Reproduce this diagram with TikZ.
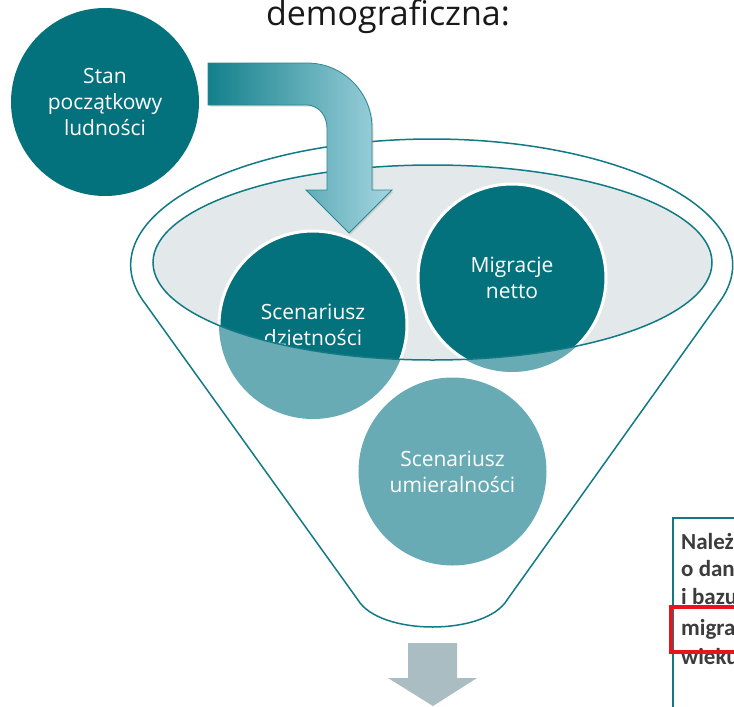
\documentclass[tikz,border=0pt]{standalone}
\usepackage{fontspec}
\setmainfont{Open Sans}
\newfontfamily\boxfont{Carlito}
\usetikzlibrary{shadows}
\definecolor{tealdark}{RGB}{4,114,125}
\definecolor{teallight}{RGB}{104,171,180}
\definecolor{rimfill}{RGB}{227,233,235}
\definecolor{funnelline}{RGB}{17,122,133}
\definecolor{arrowA}{RGB}{18,128,139}
\definecolor{arrowB}{RGB}{140,196,209}
\definecolor{arrowC}{RGB}{165,213,224}
\definecolor{arrowline}{RGB}{40,135,145}
\definecolor{grayarrow}{RGB}{169,189,195}
\definecolor{boxline}{RGB}{20,120,130}
\definecolor{boxtext}{RGB}{60,60,60}
\definecolor{redbox}{RGB}{232,20,27}
\begin{document}
\begin{tikzpicture}[x=1pt,y=-1pt,
  bubble/.style={circle, minimum size=188pt, inner sep=0pt, align=center,
    text=white, font=\fontsize{21}{26}\selectfont},
  funnelstroke/.style={draw=funnelline, line width=1.5pt},
  boxline text/.style={anchor=base west, text=boxtext, inner sep=0pt,
    font=\boxfont\bfseries\fontsize{23}{26}\selectfont}]
\useasboundingbox (0,0) rectangle (734,707);
\clip (0,0) rectangle (734,707);

% funnel body
\path[funnelstroke, fill=white] (143,300.6)
  arc[start angle=163.6, end angle=376.4, x radius=301, y radius=126]
  -- (507,600) .. controls (485,636) and (380,636) .. (358,600) -- cycle;

% funnel rim fill
\fill[rimfill] (432.5,262.5) ellipse [x radius=279.5, y radius=97.5];

% circles (light parts)
\node[bubble, fill=teallight] (dzl) at (313,325) {};
\node[bubble, fill=teallight] (migl) at (512,278) {};
\node[bubble, fill=teallight] (um) at (452.5,471.5) {Scenariusz\\umieralności};

% circles (dark parts inside the rim)
\begin{scope}
  \clip (432.5,262.5) ellipse [x radius=279.5, y radius=97.5];
  \node[bubble, fill=tealdark, draw=white, line width=3pt] (dz) at (313,325) {Scenariusz\\dzietności};
  \node[bubble, fill=tealdark, draw=white, line width=3pt] (mig) at (512,278) {Migracje\\netto};
\end{scope}

% rim outline
\path[funnelstroke] (432.5,262.5) ellipse [x radius=279.5, y radius=97.5];

% initial population
\node[bubble, fill=tealdark] (stan) at (105,102) {Stan\\początkowy\\ludności};

% bent arrow
\path[draw=arrowline, line width=0.8pt, left color=arrowA, middle color=arrowB, right color=arrowC,
  drop shadow={opacity=0.25, shadow xshift=1.5pt, shadow yshift=-1.5pt}]
  (208,63) -- (307,63)
  arc[start angle=270, end angle=360, radius=65]
  -- (372,190) -- (392,190) -- (349,233) -- (306,190) -- (327,190) -- (327,128)
  arc[start angle=0, end angle=-90, x radius=20, y radius=23]
  -- (208,105) -- cycle;

% output arrow
\fill[grayarrow] (408,643) -- (457,643) -- (457,678) -- (477,678) -- (433,706)
  -- (388,678) -- (408,678) -- cycle;

% title
\node[anchor=base, inner sep=0pt, text=black!90, font=\fontsize{34}{40}\selectfont] (title) at (388,25) {demograficzna:};

% side text box
\draw[boxline, line width=1.5pt] (673,720) -- (673,518) -- (740,518);
\node[boxline text] (t1) at (681,549) {Należ};
\node[boxline text] (t2) at (681,576) {o dan};
\node[boxline text] (t3) at (681,604) {i bazu};
\node[boxline text] (t4) at (681,635) {migra};
\node[boxline text] (t5) at (681,664) {wieku};
\draw[redbox, line width=4pt] (740,607) -- (671,607) -- (671,652) -- (740,652);
\end{tikzpicture}
\end{document}
